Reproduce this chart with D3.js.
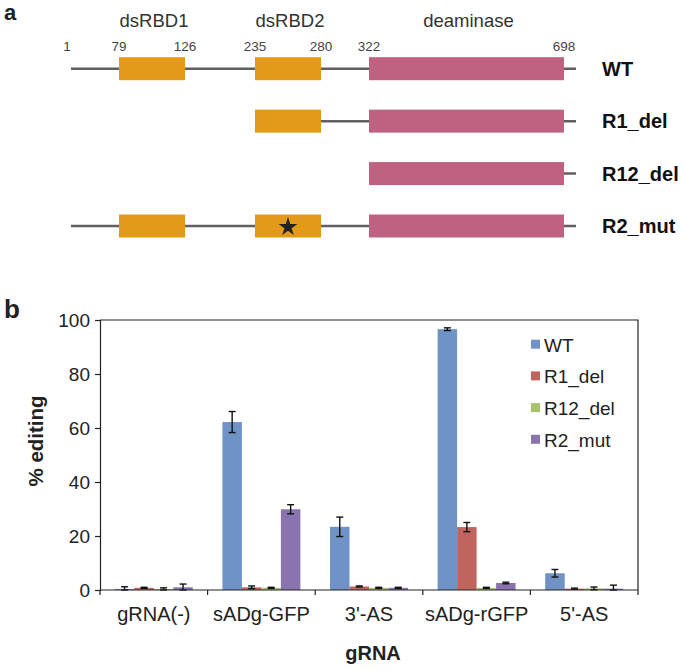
<!DOCTYPE html>
<html lang="en">
<head>
<meta charset="utf-8">
<title>editing chart</title>
<script src="https://cdn.jsdelivr.net/npm/d3@7"></script>
<style>
  body { margin: 0; background: #fff; }
  svg { display: block; font-family: "Liberation Sans", Arial, sans-serif; }
</style>
</head>
<body>
<script>
// ---- panel a: domain map ----
var aaMarks = [1, 79, 126, 235, 280, 322, 698];
var constructs = ["WT", "R1_del", "R12_del", "R2_mut"];
var lineStart = [1, 235, 322, 1];
var domainNames = ["dsRBD1", "dsRBD2", "deaminase"];
var domainStart = [79, 235, 322];
var domainEnd = [126, 280, 698];
var constructDomains = [[0, 1, 2], [1, 2], [2], [0, 1, 2]];
var mutatedDomain = [-1, -1, -1, 1];

// ---- panel b: bars ----
var categories = ["gRNA(-)", "sADg-GFP", "3'-AS", "sADg-rGFP", "5'-AS"];
var series = ["WT", "R1_del", "R12_del", "R2_mut"];
var wtVals  = [0.4, 62.2, 23.4, 96.6, 6.2];
var wtErr   = [0.8, 3.9, 3.6, 0.5, 1.4];
var r1Vals  = [0.8, 1.0, 1.3, 23.3, 0.5];
var r1Err   = [0.2, 0.5, 0.2, 1.7, 0.2];
var r12Vals = [0.4, 0.8, 0.8, 0.8, 0.6];
var r12Err  = [0.4, 0.2, 0.2, 0.2, 0.5];
var r2Vals  = [1.0, 29.9, 0.8, 2.6, 0.5];
var r2Err   = [1.2, 1.7, 0.2, 0.3, 1.3];
var yTicks = [0, 20, 40, 60, 80, 100];

var colors = ["#6f93c6", "#c0645e", "#a6c46a", "#8a74b0"];

var w = 685, h = 670;
var svg = d3.select("body").append("svg").attr("width", w).attr("height", h);

// panel letters
svg.append("text").attr("x", 4).attr("y", 20).text("a")
   .attr("font-size", "22px").attr("font-weight", "bold").attr("fill", "#222");
svg.append("text").attr("x", 4).attr("y", 318).text("b")
   .attr("font-size", "26px").attr("font-weight", "bold").attr("fill", "#222");

//Domain map scales (schematic, not to scale)
var aa = d3.scaleLinear().domain(aaMarks).range([71, 119, 185, 255, 321, 369, 564]);
var row = d3.scalePoint().domain(constructs).range([68.7, 226]);
var boxH = 23;

var mapG = svg.append("g");

mapG.selectAll("text.dom")
   .data(domainNames)
   .enter()
   .append("text")
   .attr("class", "dom")
   .attr("x", function(d, i) { return (aa(domainStart[i]) + aa(domainEnd[i])) / 2 + 2; })
   .attr("y", 27)
   .attr("text-anchor", "middle")
   .attr("font-size", "18.5px")
   .attr("fill", "#333")
   .text(function(d) { return d; });

mapG.selectAll("text.aa")
   .data(aaMarks)
   .enter()
   .append("text")
   .attr("class", "aa")
   .attr("x", function(d) { return aa(d) + (d == 1 ? -4 : 0); })
   .attr("y", 51)
   .attr("text-anchor", "middle")
   .attr("font-size", "13.5px")
   .attr("fill", "#444")
   .text(function(d) { return d; });

constructs.forEach(function(c, i) {
	var y = row(c);
	mapG.append("line")
	   .attr("x1", aa(lineStart[i]))
	   .attr("x2", aa(698) + 12)
	   .attr("y1", y).attr("y2", y)
	   .attr("stroke", "#606060")
	   .attr("stroke-width", 2.5);

	mapG.selectAll("rect.d" + i)
	   .data(constructDomains[i])
	   .enter()
	   .append("rect")
	   .attr("class", "d" + i)
	   .attr("x", function(k) { return aa(domainStart[k]); })
	   .attr("width", function(k) { return aa(domainEnd[k]) - aa(domainStart[k]); })
	   .attr("y", y - boxH / 2)
	   .attr("height", boxH)
	   .attr("fill", function(k) { return k == 2 ? "#bf6282" : "#e29a18"; });

	if (mutatedDomain[i] >= 0) {
		var k = mutatedDomain[i];
		mapG.append("path")
		   .attr("d", d3.symbol().type(d3.symbolStar).size(110)())
		   .attr("transform", "translate(" + ((aa(domainStart[k]) + aa(domainEnd[k])) / 2) + "," + (y + 1) + ")")
		   .attr("fill", "#222");
	}

	mapG.append("text")
	   .attr("x", 602)
	   .attr("y", y + 7)
	   .attr("font-size", "20px")
	   .attr("font-weight", "bold")
	   .attr("fill", "#111")
	   .text(c);
});

// ---- bar chart ----
var left = 100, right = 638, ptop = 320, bottom = 590;
var allVals = [wtVals, r1Vals, r12Vals, r2Vals];
var allErr = [wtErr, r1Err, r12Err, r2Err];

var x0 = d3.scaleBand().domain(categories).range([left, right]);
var x1 = d3.scaleBand().domain(series).range([0, x0.bandwidth()]).paddingOuter(0.76);
var y = d3.scaleLinear().domain([0, 100]).range([bottom, ptop]);

var rows = [];
categories.forEach(function(cat, ci) {
	series.forEach(function(s, si) {
		rows.push({cat: cat, s: s, si: si, v: allVals[si][ci], e: allErr[si][ci]});
	});
});

var chart = svg.append("g");

chart.selectAll("rect.bar")
   .data(rows)
   .enter()
   .append("rect")
   .attr("class", "bar")
   .attr("x", function(d) { return x0(d.cat) + x1(d.s); })
   .attr("width", x1.bandwidth())
   .attr("y", function(d) { return y(d.v); })
   .attr("height", function(d) { return y(0) - y(d.v); })
   .attr("fill", function(d) { return colors[d.si]; });

//Error bars
function cx(d) { return x0(d.cat) + x1(d.s) + x1.bandwidth() / 2; }
var eb = chart.selectAll("g.err")
   .data(rows)
   .enter()
   .append("g")
   .attr("class", "err")
   .attr("stroke", "#111")
   .attr("stroke-width", 1.4);
eb.append("line")
   .attr("x1", cx).attr("x2", cx)
   .attr("y1", function(d) { return y(d.v + d.e); })
   .attr("y2", function(d) { return y(Math.max(0, d.v - d.e)); });
eb.append("line")
   .attr("x1", function(d) { return cx(d) - 3.5; })
   .attr("x2", function(d) { return cx(d) + 3.5; })
   .attr("y1", function(d) { return y(d.v + d.e); })
   .attr("y2", function(d) { return y(d.v + d.e); });
eb.append("line")
   .attr("x1", function(d) { return cx(d) - 3.5; })
   .attr("x2", function(d) { return cx(d) + 3.5; })
   .attr("y1", function(d) { return y(Math.max(0, d.v - d.e)); })
   .attr("y2", function(d) { return y(Math.max(0, d.v - d.e)); });

//Frame (top and right)
chart.append("path")
   .attr("d", "M" + left + "," + ptop + "H" + right + "V" + bottom)
   .attr("fill", "none")
   .attr("stroke", "#222")
   .attr("stroke-width", 1.2);

//Y axis
var yAxis = chart.append("g")
   .attr("transform", "translate(" + left + ",0)")
   .call(d3.axisLeft(y).tickValues(yTicks).tickSize(5).tickPadding(5));
yAxis.select(".domain").attr("stroke", "#222").attr("stroke-width", 1.2);
yAxis.selectAll(".tick line").attr("stroke", "#222").attr("stroke-width", 1.2);
yAxis.selectAll("text")
   .attr("font-size", "19px")
   .attr("font-family", "Liberation Sans, Arial, sans-serif")
   .attr("fill", "#222");

//X axis: ticks at group boundaries
var xAxis = chart.append("g").attr("transform", "translate(0," + bottom + ")");
xAxis.append("line")
   .attr("x1", left).attr("x2", right)
   .attr("stroke", "#222").attr("stroke-width", 1.2);
xAxis.selectAll("line.tk")
   .data(d3.range(categories.length + 1))
   .enter()
   .append("line")
   .attr("class", "tk")
   .attr("x1", function(i) { return left + i * x0.step(); })
   .attr("x2", function(i) { return left + i * x0.step(); })
   .attr("y1", 0).attr("y2", 5)
   .attr("stroke", "#222").attr("stroke-width", 1.2);
xAxis.selectAll("text")
   .data(categories)
   .enter()
   .append("text")
   .attr("x", function(d) { return x0(d) + x0.bandwidth() / 2; })
   .attr("y", 31)
   .attr("text-anchor", "middle")
   .attr("font-size", "20px")
   .attr("fill", "#222")
   .text(function(d) { return d; });

//Axis titles
svg.append("text")
   .attr("x", 373).attr("y", 660)
   .attr("text-anchor", "middle")
   .attr("font-size", "20px").attr("font-weight", "bold").attr("fill", "#222")
   .text("gRNA");
svg.append("text")
   .attr("transform", "translate(43,441) rotate(-90)")
   .attr("text-anchor", "middle")
   .attr("font-size", "20.5px").attr("font-weight", "bold").attr("fill", "#222")
   .text("% editing");

//Legend
var leg = svg.selectAll("g.leg")
   .data(series)
   .enter()
   .append("g")
   .attr("class", "leg")
   .attr("transform", function(d, i) { return "translate(531," + (351.7 + i * 31.7) + ")"; });
leg.append("rect")
   .attr("x", 0).attr("y", -12).attr("width", 9).attr("height", 9)
   .attr("fill", function(d, i) { return colors[i]; });
leg.append("text")
   .attr("x", 13).attr("y", 0)
   .attr("font-size", "19px").attr("fill", "#222")
   .text(function(d) { return d; });
</script>
</body>
</html>
